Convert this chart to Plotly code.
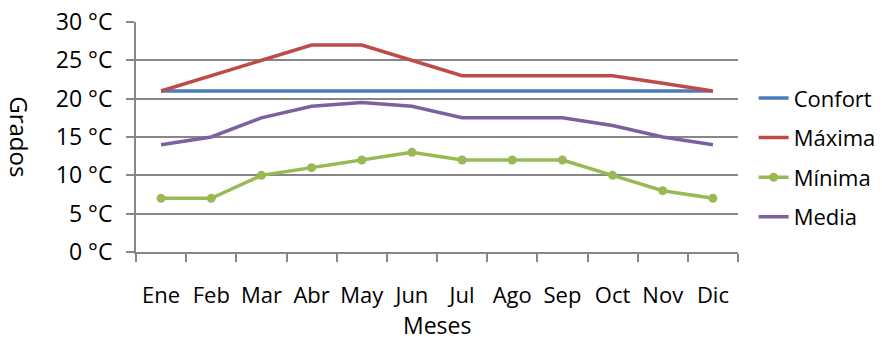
import plotly.graph_objects as go

meses = ["Ene", "Feb", "Mar", "Abr", "May", "Jun", "Jul", "Ago", "Sep", "Oct", "Nov", "Dic"]
confort = [21, 21, 21, 21, 21, 21, 21, 21, 21, 21, 21, 21]
maxima = [21, 23, 25, 27, 27, 25, 23, 23, 23, 23, 22, 21]
minima = [7, 7, 10, 11, 12, 13, 12, 12, 12, 10, 8, 7]
media = [14, 15, 17.5, 19, 19.5, 19, 17.5, 17.5, 17.5, 16.5, 15, 14]

FONT = "Open Sans"
GRID = "#878787"
fig = go.Figure()
fig.add_trace(go.Scatter(x=meses, y=confort, name="Confort", mode="lines", legendgroup="a",
                         line=dict(color="#4a7ebb", width=3.5)))
fig.add_trace(go.Scatter(x=meses, y=maxima, name="Máxima", mode="lines", legendgroup="b",
                         line=dict(color="#be4b48", width=3.5)))
fig.add_trace(go.Scatter(x=meses, y=minima, name="Mínima", mode="lines+markers", legendgroup="c",
                         line=dict(color="#98b954", width=3.5),
                         marker=dict(color="#98b954", size=9, symbol="circle")))
fig.add_trace(go.Scatter(x=meses, y=media, name="Media", mode="lines", legendgroup="d",
                         line=dict(color="#7d60a0", width=3.5)))

fig.update_layout(
    width=874, height=331,
    margin=dict(l=128, r=144, t=14, b=87, autoexpand=False),
    paper_bgcolor="white", plot_bgcolor="white",
    font=dict(family=FONT, size=23, color="black"),
    xaxis=dict(type="category", tickson="boundaries", ticks="outside", ticklen=8,
               tickcolor=GRID, tickwidth=2, showline=True, linecolor=GRID,
               linewidth=2, showgrid=False, range=[-0.5, 11.5], automargin=False,
               tickangle=0, ticklabelstandoff=23, ticklabeloverflow="allow",
               tickfont=dict(size=22)),
    yaxis=dict(range=[0, 30], dtick=5, ticksuffix=" °C", ticks="outside", ticklen=8,
               tickcolor=GRID, tickwidth=2, showline=True, linecolor=GRID,
               linewidth=2, showgrid=True, gridcolor=GRID, gridwidth=2,
               zeroline=False, automargin=False, ticklabelstandoff=9,
               ticklabeloverflow="allow", tickfont=dict(size=23)),
    legend=dict(x=1.026, y=0.41, xanchor="left", yanchor="middle",
                font=dict(size=22), itemwidth=30, tracegroupgap=8),
    annotations=[
        dict(text="Grados", textangle=90, xref="paper", yref="paper",
             x=-0.193, y=0.5, xanchor="center", yanchor="middle",
             showarrow=False, font=dict(size=24)),
        dict(text="Meses", xref="paper", yref="paper",
             x=0.5, y=-0.318, xanchor="center", yanchor="middle",
             showarrow=False, font=dict(size=23)),
    ],
    showlegend=True,
)
fig.write_html("out.html")
